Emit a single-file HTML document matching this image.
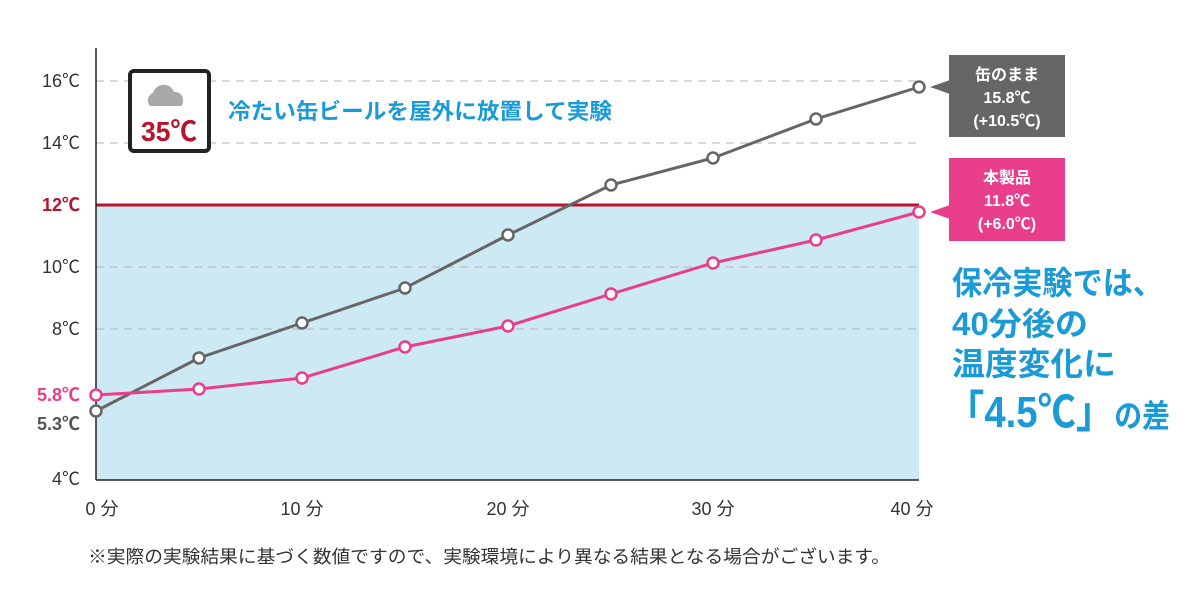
<!DOCTYPE html>
<html><head><meta charset="utf-8"><style>
html,body{margin:0;padding:0;background:#fff;}
svg{display:block;}
text{font-family:"Liberation Sans","Noto Sans CJK JP",sans-serif;}
</style></head><body>
<svg width="1200" height="600" viewBox="0 0 1200 600" xmlns="http://www.w3.org/2000/svg">
<rect width="1200" height="600" fill="#fff"/>
<rect x="96" y="205" width="823" height="275" fill="#cde9f3"/>
<g stroke="#b5b5b5" stroke-width="1" stroke-dasharray="8,6">
<line x1="96" y1="81" x2="920" y2="81"/>
<line x1="96" y1="143" x2="920" y2="143"/>
<line x1="96" y1="267" x2="920" y2="267"/>
<line x1="96" y1="329" x2="920" y2="329"/>
</g>
<line x1="96" y1="205" x2="919" y2="205" stroke="#b8142e" stroke-width="3"/>
<line x1="96" y1="48" x2="96" y2="480" stroke="#222" stroke-width="1.5"/>
<line x1="96" y1="480" x2="919" y2="480" stroke="#222" stroke-width="1.5"/>
<g font-size="18" fill="#333" text-anchor="end">
<text x="80" y="87">16℃</text>
<text x="80" y="149">14℃</text>
<text x="80" y="211" fill="#b8142e" font-weight="bold">12℃</text>
<text x="80" y="273">10℃</text>
<text x="80" y="335">8℃</text>
<text x="80" y="401" fill="#e83e8c" font-weight="bold">5.8℃</text>
<text x="80" y="430" fill="#555" font-weight="bold">5.3℃</text>
<text x="80" y="485">4℃</text>
</g>
<g font-size="18" fill="#333" text-anchor="middle">
<text x="102" y="515">0 分</text>
<text x="302" y="515">10 分</text>
<text x="508" y="515">20 分</text>
<text x="713" y="515">30 分</text>
<text x="912" y="515">40 分</text>
</g>
<polyline fill="none" stroke="#666" stroke-width="3" points="96,411 199,358 302,323 405,288 508,235 611,185 713,158 816,119 919,87"/>
<polyline fill="none" stroke="#e83e8c" stroke-width="3" points="96,395 199,389 302,378 405,347 508,326 611,294 713,263 816,240 919,212"/>
<g fill="#fff" stroke="#666" stroke-width="2.5">
<circle cx="96" cy="411" r="5.5"/><circle cx="199" cy="358" r="5.5"/><circle cx="302" cy="323" r="5.5"/><circle cx="405" cy="288" r="5.5"/><circle cx="508" cy="235" r="5.5"/><circle cx="611" cy="185" r="5.5"/><circle cx="713" cy="158" r="5.5"/><circle cx="816" cy="119" r="5.5"/><circle cx="919" cy="87" r="5.5"/>
</g>
<g fill="#fff" stroke="#e83e8c" stroke-width="2.5">
<circle cx="96" cy="395" r="5.5"/><circle cx="199" cy="389" r="5.5"/><circle cx="302" cy="378" r="5.5"/><circle cx="405" cy="347" r="5.5"/><circle cx="508" cy="326" r="5.5"/><circle cx="611" cy="294" r="5.5"/><circle cx="713" cy="263" r="5.5"/><circle cx="816" cy="240" r="5.5"/><circle cx="919" cy="212" r="5.5"/>
</g>
<!-- icon -->
<rect x="130" y="71" width="79" height="80" rx="4" fill="#fff" stroke="#222" stroke-width="4"/>
<path d="M150,106 a8,8 0 0 1 3,-13 a11,11 0 0 1 21,-1 a8,8 0 0 1 9,8 a7,7 0 0 1 -2,6 z" fill="#a9a9a9"/>
<text x="169" y="141" font-size="28" font-weight="bold" fill="#b8142e" text-anchor="middle" textLength="56" lengthAdjust="spacingAndGlyphs">35℃</text>
<text x="228" y="119" font-size="22" font-weight="bold" fill="#1a9ad6" textLength="384" lengthAdjust="spacingAndGlyphs">冷たい缶ビールを屋外に放置して実験</text>
<!-- labels -->
<rect x="949" y="55" width="116" height="82" fill="#666"/>
<polygon points="930,87 950,80 950,94" fill="#666"/>
<g font-size="16" font-weight="bold" fill="#fff" text-anchor="middle">
<text x="1007" y="80">缶のまま</text><text x="1007" y="103">15.8℃</text><text x="1007" y="126">(+10.5℃)</text>
</g>
<rect x="949" y="158" width="116" height="83" fill="#e83e8c"/>
<polygon points="930,212 950,205 950,219" fill="#e83e8c"/>
<g font-size="16" font-weight="bold" fill="#fff" text-anchor="middle">
<text x="1007" y="183">本製品</text><text x="1007" y="206">11.8℃</text><text x="1007" y="229">(+6.0℃)</text>
</g>
<g font-size="32" font-weight="bold" fill="#1a9ad6">
<text x="952" y="294" textLength="211" lengthAdjust="spacingAndGlyphs">保冷実験では、</text>
<text x="952" y="335" textLength="136" lengthAdjust="spacingAndGlyphs">40分後の</text>
<text x="952" y="375" textLength="164" lengthAdjust="spacingAndGlyphs">温度変化に</text>
<text x="946" y="427" textLength="224" lengthAdjust="spacingAndGlyphs"><tspan font-size="44">「4.5℃」</tspan>の差</text>
</g>
<text x="88" y="563" font-size="18" fill="#333" textLength="802" lengthAdjust="spacingAndGlyphs">※実際の実験結果に基づく数値ですので、実験環境により異なる結果となる場合がございます。</text>
</svg>
</body></html>
